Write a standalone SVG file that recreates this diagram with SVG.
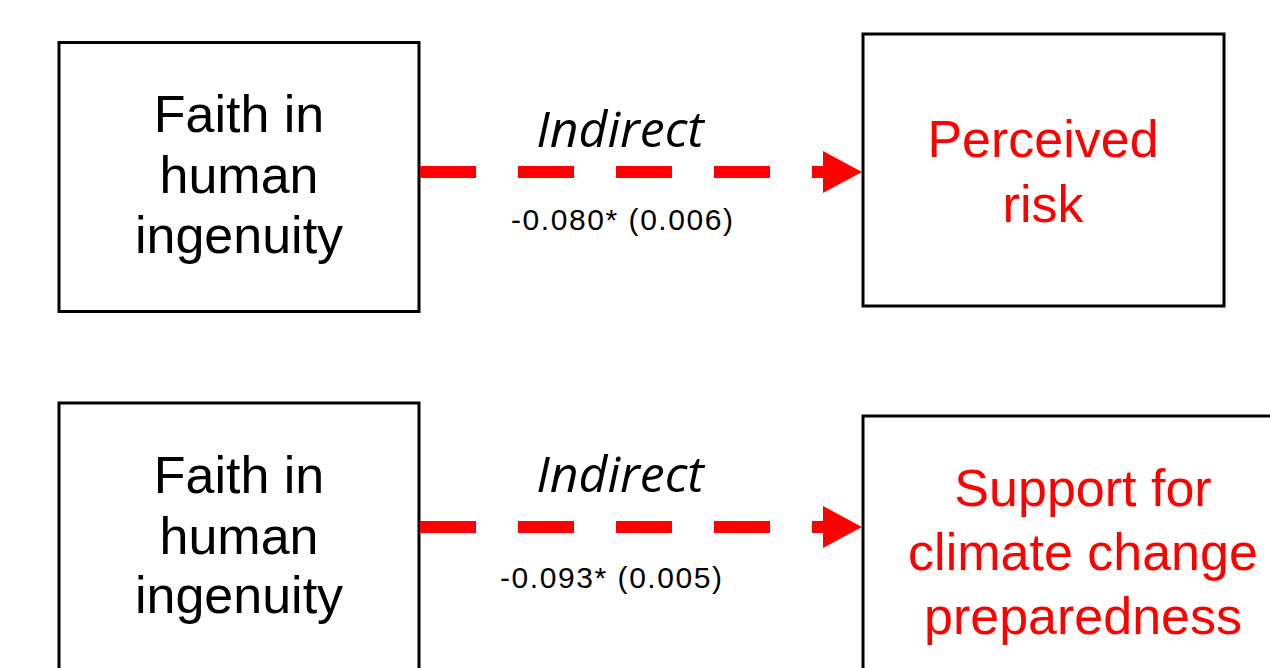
<svg xmlns="http://www.w3.org/2000/svg" width="1270" height="668" viewBox="0 0 1270 668">
  <style>
    .box { fill: #ffffff; stroke: #000000; stroke-width: 3; }
    .lbl { font-family: "Liberation Sans", Arial, sans-serif; font-size: 52px; fill: #000000; text-anchor: middle; }
    .out { font-family: "Liberation Sans", Arial, sans-serif; font-size: 52px; fill: #ff0000; text-anchor: middle; }
    .path-name { font-family: "Open Sans", "Noto Sans", sans-serif; font-style: italic; font-size: 50px; fill: #000000; text-anchor: middle; }
    .coef { font-family: "Liberation Sans", Arial, sans-serif; font-size: 30px; fill: #000000; text-anchor: middle; }
    .dash { stroke: #ff0000; stroke-width: 12; stroke-dasharray: 56 42; fill: none; }
  </style>
  <defs>
    <marker id="head" markerUnits="userSpaceOnUse" viewBox="0 0 39 42" markerWidth="39" markerHeight="42" refX="0" refY="21" orient="auto">
      <path d="M0,0 L39,21 L0,42 Z" fill="#ff0000"/>
    </marker>
  </defs>
  <rect width="1270" height="668" fill="#ffffff"/>

  <!-- upper model -->
  <g id="faith-top">
    <rect class="box" x="59" y="42.5" width="360" height="269"/>
    <text class="lbl" x="239" y="132">Faith in</text>
    <text class="lbl" x="239" y="193">human</text>
    <text class="lbl" x="239" y="253">ingenuity</text>
  </g>
  <g id="perceived-risk">
    <rect class="box" x="863" y="34" width="361" height="272"/>
    <text class="out" x="1043" y="157">Perceived</text>
    <text class="out" x="1043" y="222">risk</text>
  </g>

  <!-- lower model -->
  <g id="faith-bottom">
    <rect class="box" x="59" y="403" width="360" height="300"/>
    <text class="lbl" x="239" y="493">Faith in</text>
    <text class="lbl" x="239" y="554">human</text>
    <text class="lbl" x="239" y="613">ingenuity</text>
  </g>
  <g id="preparedness">
    <rect class="box" x="863" y="416" width="450" height="300"/>
    <text class="out" x="1083" y="506">Support for</text>
    <text class="out" x="1083" y="570">climate change</text>
    <text class="out" x="1083" y="634">preparedness</text>
  </g>

  <!-- indirect effect paths -->
  <g id="connectors">
    <line class="dash" x1="420" y1="172" x2="823" y2="172" marker-end="url(#head)"/>
    <text class="path-name" x="620" y="147">Indirect</text>
    <text class="coef" x="622" y="230" textLength="222" lengthAdjust="spacing">-0.080* (0.006)</text>

    <line class="dash" x1="420" y1="527" x2="823" y2="527" marker-end="url(#head)"/>
    <text class="path-name" x="620" y="492">Indirect</text>
    <text class="coef" x="611" y="588" textLength="222" lengthAdjust="spacing">-0.093* (0.005)</text>
  </g>
</svg>
